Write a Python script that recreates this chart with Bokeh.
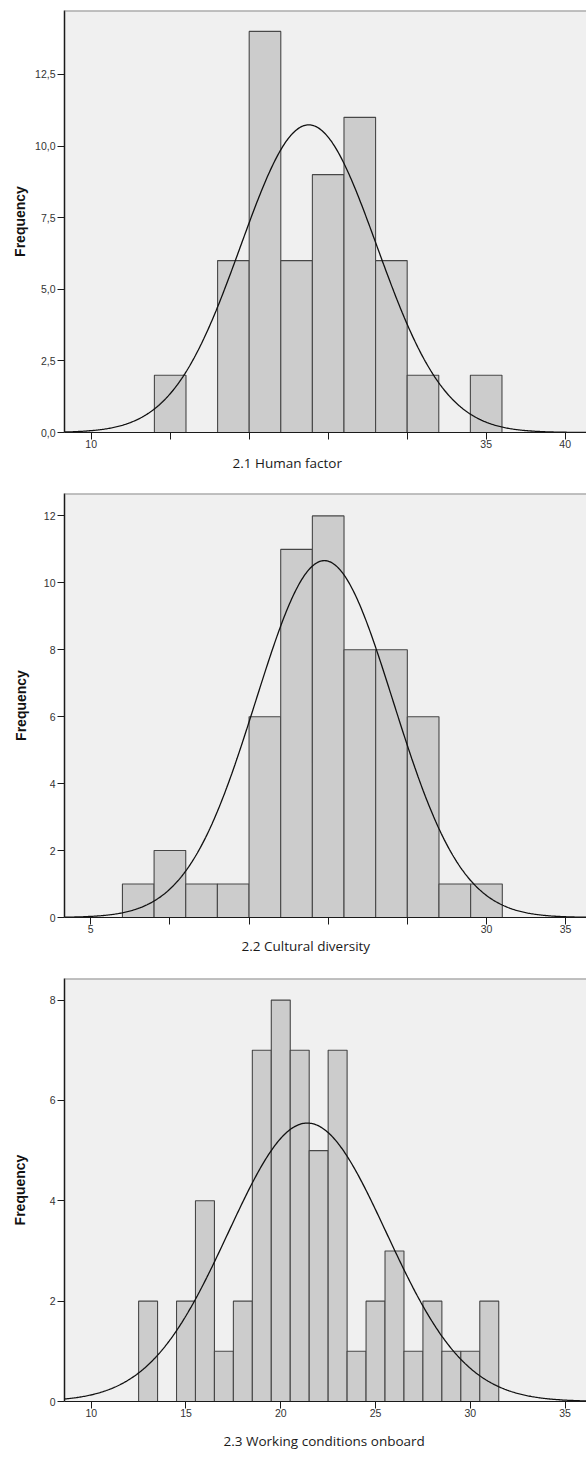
import numpy as np
from bokeh.plotting import figure
from bokeh.layouts import column
from bokeh.models import FixedTicker, Span, Title, Range1d
from bokeh.embed import file_html
from bokeh.resources import INLINE

# ---------------- data ----------------
# 2.1 Human factor
hf_bin_start = 14
hf_bin_width = 2
hf_counts = [2, 0, 6, 14, 6, 9, 11, 6, 2, 0, 2]
hf_mean, hf_sd, hf_n = 23.77, 4.31, 58
hf_xticks = [10, 15, 20, 25, 30, 35, 40]
hf_xlabels = ["10", "", "", "", "", "35", "40"]
hf_yticks = [0, 2.5, 5, 7.5, 10, 12.5]
hf_ylabels = ["0,0", "2,5", "5,0", "7,5", "10,0", "12,5"]
hf_title = "2.1 Human factor"

# 2.2 Cultural diversity
cd_bin_start = 7
cd_bin_width = 2
cd_counts = [1, 2, 1, 1, 6, 11, 12, 8, 8, 6, 1, 1]
cd_mean, cd_sd, cd_n = 19.76, 4.34, 58
cd_xticks = [5, 10, 15, 20, 25, 30, 35]
cd_xlabels = ["5", "", "", "", "", "30", "35"]
cd_yticks = [0, 2, 4, 6, 8, 10, 12]
cd_ylabels = ["0", "2", "4", "6", "8", "10", "12"]
cd_title = "2.2 Cultural diversity"

# 2.3 Working conditions onboard
wc_bin_start = 12.5
wc_bin_width = 1
wc_counts = [2, 0, 2, 4, 1, 2, 7, 8, 7, 5, 7, 1, 2, 3, 1, 2, 1, 1, 2]
wc_mean, wc_sd, wc_n = 21.4, 4.17, 58
wc_xticks = [10, 15, 20, 25, 30, 35]
wc_xlabels = ["10", "15", "20", "25", "30", "35"]
wc_yticks = [0, 2, 4, 6, 8]
wc_ylabels = ["0", "2", "4", "6", "8"]
wc_title = "2.3 Working conditions onboard"

FIG_W = 586
TICK_FONT = "Liberation Sans"


def make_panel(counts, start, bw, mean, sd, n, xticks, xlabels, yticks, ylabels,
               title, xr, yr, height, b_top, b_left, b_bottom, title_offset,
               title_standoff, ylab_standoff):
    p = figure(width=FIG_W, height=height, output_backend="svg", toolbar_location=None,
               x_range=Range1d(*xr), y_range=Range1d(*yr),
               min_border_top=b_top, min_border_left=b_left,
               min_border_bottom=b_bottom, min_border_right=0)
    p.background_fill_color = "#f0f0f0"
    p.border_fill_color = "white"
    p.outline_line_color = None
    p.grid.visible = False

    counts = np.array(counts, dtype=float)
    lefts = start + bw * np.arange(len(counts))
    mask = counts > 0
    p.quad(left=lefts[mask], right=lefts[mask] + bw, bottom=0, top=counts[mask],
           fill_color="#cccccc", line_color="#474747", line_width=1.1)

    xs = np.linspace(xr[0], xr[1], 500)
    ys = n * bw / (sd * np.sqrt(2 * np.pi)) * np.exp(-0.5 * ((xs - mean) / sd) ** 2)
    p.line(xs, ys, line_color="#111111", line_width=1.3)

    # top frame border
    p.add_layout(Span(location=yr[1], dimension="width", line_color="#8a8a8a", line_width=2))

    xa = p.xaxis[0]
    xa.ticker = FixedTicker(ticks=xticks)
    xa.major_label_overrides = {t: l for t, l in zip(xticks, xlabels)}
    xa.minor_tick_line_color = None
    xa.major_tick_in = 0
    xa.major_tick_out = 7
    xa.major_label_standoff = 0
    xa.axis_line_color = "#1a1a1a"
    xa.major_tick_line_color = "#1a1a1a"
    xa.major_label_text_font = TICK_FONT
    xa.major_label_text_font_size = "10.5px"
    xa.major_label_text_color = "#333333"

    ya = p.yaxis[0]
    ya.ticker = FixedTicker(ticks=yticks)
    ya.major_label_overrides = {t: l for t, l in zip(yticks, ylabels)}
    ya.minor_tick_line_color = None
    ya.major_tick_in = 0
    ya.major_tick_out = 7
    ya.major_label_standoff = 2
    ya.axis_line_color = "#1a1a1a"
    ya.axis_line_width = 1.5
    ya.major_tick_line_color = "#1a1a1a"
    ya.major_label_text_font = TICK_FONT
    ya.major_label_text_font_size = "10.5px"
    ya.major_label_text_color = "#333333"
    ya.axis_label = "Frequency"
    ya.axis_label_text_font = TICK_FONT
    ya.axis_label_text_font_style = "bold"
    ya.axis_label_text_font_size = "14px"
    ya.axis_label_text_color = "#111111"
    ya.axis_label_standoff = ylab_standoff

    p.add_layout(Title(text=title, align="left", offset=title_offset,
                       standoff=title_standoff, text_font="Open Sans",
                       text_font_size="13.5px", text_font_style="normal",
                       text_color="#1a1a1a"), "below")
    return p


p1 = make_panel(hf_counts, hf_bin_start, hf_bin_width, hf_mean, hf_sd, hf_n,
                hf_xticks, hf_xlabels, hf_yticks, hf_ylabels, hf_title,
                (8.31, 41.35), (0, 14.73), 480, 10, 64, 48, 168, 2, 4)
p2 = make_panel(cd_counts, cd_bin_start, cd_bin_width, cd_mean, cd_sd, cd_n,
                cd_xticks, cd_xlabels, cd_yticks, cd_ylabels, cd_title,
                (3.34, 36.32), (0, 12.67), 485, 13, 55, 48, 177, -2, 12)
p3 = make_panel(wc_counts, wc_bin_start, wc_bin_width, wc_mean, wc_sd, wc_n,
                wc_xticks, wc_xlabels, wc_yticks, wc_ylabels, wc_title,
                (8.59, 36.13), (0, 8.43), 496, 13, 49, 60, 159, 21, 19)

layout = column(p1, p2, p3, spacing=0)
open("out.html", "w").write(file_html(layout, INLINE))
